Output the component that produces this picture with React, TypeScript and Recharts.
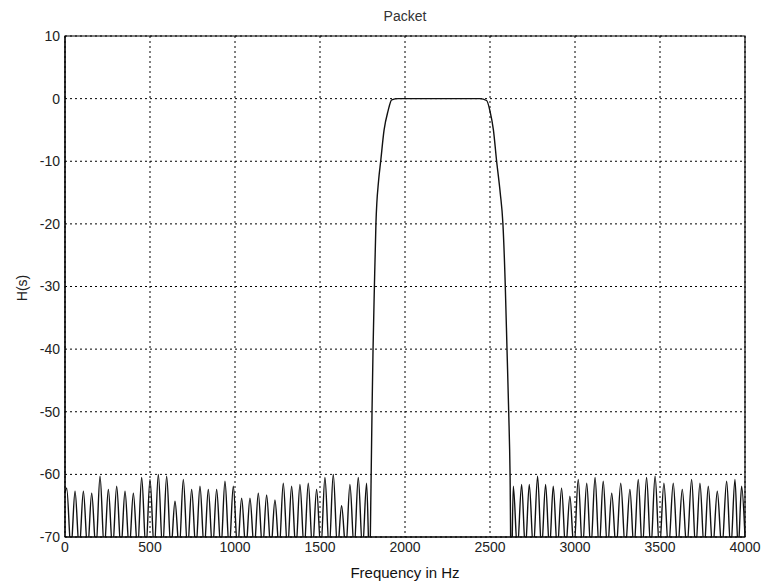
import React from "react";
import {
  CartesianGrid,
  Line,
  LineChart,
  ReferenceArea,
  XAxis,
  YAxis,
} from "recharts";

// frequency (Hz), magnitude (dB); nulls sit just below -70 and get clipped
const leftStopband: [number, number][] = [
  [0, -63], [10, -62.2], [35, -72], [59, -62.7], [84, -72], [108, -62.7], [133, -72],
  [157, -63.0], [182, -72], [206, -60.3], [231, -72], [255, -62.4], [280, -72],
  [304, -61.9], [329, -72], [353, -62.7], [378, -72], [402, -63.0], [427, -72],
  [451, -60.5], [476, -72], [500, -60.8], [525, -72], [549, -60.0], [574, -72],
  [598, -60.3], [623, -72], [647, -64.3], [672, -72], [696, -60.8], [721, -72],
  [745, -62.4], [770, -72], [794, -61.9], [819, -72], [843, -62.4], [868, -72],
  [892, -62.4], [917, -72], [941, -61.1], [966, -72], [990, -61.9], [1015, -72],
  [1039, -63.8], [1064, -72], [1088, -63.8], [1113, -72], [1137, -63.0], [1162, -72],
  [1186, -63.3], [1211, -72], [1235, -64.1], [1260, -72], [1284, -61.4], [1309, -72],
  [1333, -61.9], [1358, -72], [1382, -61.6], [1407, -72], [1431, -61.4], [1456, -72],
  [1480, -62.4], [1505, -72], [1529, -60.5], [1554, -72], [1578, -60.0], [1603, -72],
  [1627, -65.0], [1652, -72], [1676, -61.6], [1701, -72], [1725, -60.5], [1750, -72],
  [1774, -61.4], [1792, -75],
];

const passband: [number, number][] = [
  [1800, -62], [1806, -50], [1812, -40], [1820, -30], [1829, -20], [1845, -13],
  [1857, -10], [1877, -5], [1900, -2], [1922, -0.2], [1960, 0], [2200, 0], [2440, 0],
  [2480, -0.3], [2500, -2], [2520, -5], [2539, -10], [2560, -15], [2576, -20],
  [2590, -30], [2600, -40], [2610, -50], [2618, -60], [2625, -78],
];

const rightStopband: [number, number][] = [
  [2637, -61.9], [2661, -72], [2686, -61.6], [2708, -72], [2731, -61.6], [2755, -72],
  [2780, -60.3], [2803, -72], [2827, -61.6], [2850, -72], [2872, -61.9], [2896, -72],
  [2921, -62.2], [2945, -72], [2970, -63.5], [2994, -72], [3019, -60.8], [3044, -72],
  [3069, -61.4], [3093, -72], [3118, -60.5], [3142, -72], [3166, -61.1], [3191, -72],
  [3216, -63.0], [3242, -72], [3269, -61.4], [3296, -72], [3323, -62.4], [3347, -72],
  [3372, -60.8], [3396, -72], [3421, -60.5], [3446, -72], [3471, -60.3], [3497, -72],
  [3523, -61.4], [3550, -72], [3578, -61.4], [3604, -72], [3631, -62.4], [3658, -72],
  [3686, -60.8], [3710, -72], [3735, -61.4], [3760, -72], [3784, -61.9], [3810, -72],
  [3837, -62.7], [3864, -72], [3892, -61.1], [3916, -72], [3941, -60.8], [3960, -72],
  [3980, -61.9], [4000, -70],
];

const xTicks = [0, 500, 1000, 1500, 2000, 2500, 3000, 3500, 4000];
const yTicks = [-70, -60, -50, -40, -30, -20, -10, 0, 10];

const data = [...leftStopband, ...passband, ...rightStopband].map(([f, db]) => ({f, db}));

const FONT = "'Liberation Sans', Arial, sans-serif";
const tickStyle = {fontSize: 14, fill: "#222", fontFamily: FONT};

export default function App() {
  return (
    <div style={{position: "absolute", left: 0, top: 0, width: 764, height: 582, background: "#fff", fontFamily: FONT}}>
      <div style={{position: "absolute", left: 0, width: 764, top: 8, textAlign: "center", paddingLeft: 46, boxSizing: "border-box", fontSize: 14, color: "#333"}}>
        Packet
      </div>
      <div style={{position: "absolute", left: 405, top: 572, transform: "translate(-50%, -50%)", fontSize: 15, color: "#111", whiteSpace: "nowrap"}}>
        Frequency in Hz
      </div>
      <div style={{position: "absolute", left: 22, top: 288, transform: "translate(-50%, -50%) rotate(-90deg)", fontSize: 14, color: "#222", whiteSpace: "nowrap"}}>
        H(s)
      </div>
      <LineChart width={764} height={582} data={data} margin={{top: 36, right: 19, bottom: 0, left: 0}}>
        <CartesianGrid stroke="#000" strokeDasharray="2 3" strokeWidth={1} />
        <XAxis
          dataKey="f"
          type="number"
          domain={[0, 4000]}
          ticks={xTicks}
          height={45}
          tickLine={false}
          tickSize={3}
          tickMargin={2}
          axisLine={{stroke: "#000"}}
          tick={tickStyle}
          interval={0}
        />
        <YAxis
          dataKey="db"
          type="number"
          domain={[-70, 10]}
          ticks={yTicks}
          allowDataOverflow
          width={65}
          tickLine={false}
          tickSize={3}
          tickMargin={2}
          axisLine={{stroke: "#000"}}
          tick={tickStyle}
          interval={0}
        />
        <ReferenceArea x1={0} x2={4000} y1={-70} y2={10} fill="none" stroke="#000" strokeWidth={1.2} />
        <Line
          dataKey="db"
          type="monotone"
          stroke="#111"
          strokeWidth={1.4}
          dot={false}
          isAnimationActive={false}
        />
      </LineChart>
    </div>
  );
}
